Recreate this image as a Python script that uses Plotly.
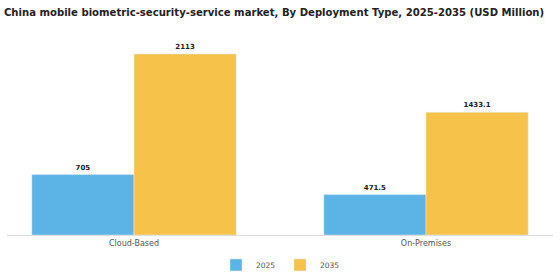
import plotly.graph_objects as go

categories = ["Cloud-Based", "On-Premises"]
years = ["2025", "2035"]
values_2025 = [705, 471.5]
values_2035 = [2113, 1433.1]
labels_2025 = ["705", "471.5"]
labels_2035 = ["2113", "1433.1"]

colors = {"2025": "#5BB4E5", "2035": "#F6C24A"}

fig = go.Figure()
for yr, vals, labs in [("2025", values_2025, labels_2025), ("2035", values_2035, labels_2035)]:
    fig.add_trace(go.Bar(
        x=categories, y=vals, name=yr, marker_color=colors[yr],
        text=labs, textposition="outside", cliponaxis=False,
        textfont=dict(family="DejaVu Sans", size=7, color="#222222", weight="bold"),
    ))

fig.update_layout(
    width=560, height=280,
    margin=dict(l=7, r=7, t=40, b=45, autoexpand=False),
    paper_bgcolor="white", plot_bgcolor="white",
    barmode="group", bargap=0.3, bargroupgap=0,
    title=dict(text="<b>China mobile biometric-security-service market, By Deployment Type, 2025-2035 (USD Million)</b>",
               x=0.007, xanchor="left", y=0.955, yanchor="middle",
               font=dict(family="DejaVu Sans", size=10.1, color="#222222")),
    xaxis=dict(range=[-0.435, 1.435], showline=True, linecolor="#DDDDDD", linewidth=1,
               ticks="", tickfont=dict(family="DejaVu Sans", size=8, color="#555555"),
               showgrid=False),
    yaxis=dict(range=[0, 2276], visible=False, showgrid=False),
    legend=dict(orientation="h", x=0.5, xanchor="center", xref="container",
                y=0.054, yanchor="middle", yref="container",
                entrywidth=19, itemwidth=30,
                font=dict(family="DejaVu Sans", size=7.5, color="#555555")),
    showlegend=True,
)
fig.write_html("out.html")
